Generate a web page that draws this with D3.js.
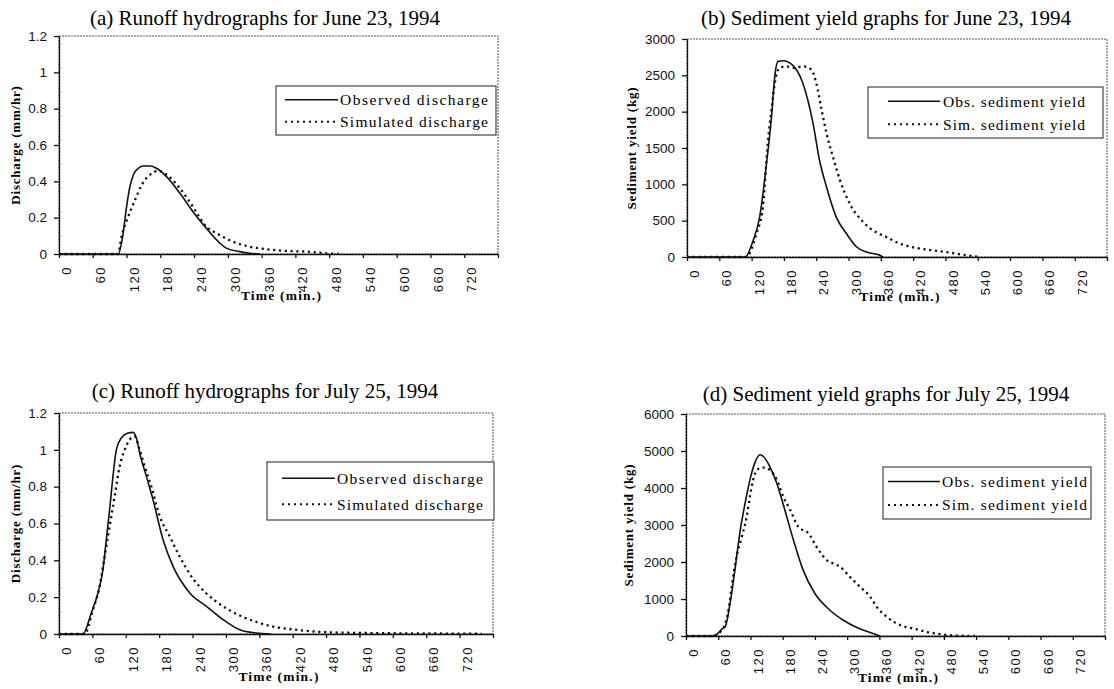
<!DOCTYPE html>
<html>
<head>
<meta charset="utf-8">
<script src="https://cdn.jsdelivr.net/npm/d3@7"></script>
<style>
  body { margin: 0; background: #fff; }
  svg { display: block; font-family: "Liberation Serif", "Times New Roman", serif; }
</style>
</head>
<body>
<svg width="1114" height="689"></svg>
<script>
// titles and labels
const titles = [
  "(a) Runoff hydrographs for June 23, 1994",
  "(b) Sediment yield graphs for June 23, 1994",
  "(c) Runoff hydrographs for July 25, 1994",
  "(d) Sediment yield graphs for July 25, 1994"
];
const yLabels = ["Discharge (mm/hr)", "Sediment yield (kg)"];
const xLabel = "Time (min.)";
const legendDischarge = ["Observed discharge", "Simulated discharge"];
const legendSediment = ["Obs. sediment yield", "Sim. sediment yield"];
const timeTicks = d3.range(0, 781, 60);
const dischargeTicks = [0, 0.2, 0.4, 0.6, 0.8, 1, 1.2];
const sediment1Ticks = [0, 500, 1000, 1500, 2000, 2500, 3000];
const sediment2Ticks = [0, 1000, 2000, 3000, 4000, 5000, 6000];

// (a) runoff, June 23
const aObsT = [0, 105, 114, 120, 126, 132, 141, 150, 162, 173, 191, 215, 238, 262, 286, 298, 321, 339, 357];
const aObsV = [0, 0, 0.114, 0.26, 0.37, 0.435, 0.472, 0.484, 0.484, 0.472, 0.426, 0.334, 0.233, 0.141, 0.059, 0.031, 0.013, 0.004, 0];
const aSimT = [0, 105, 111, 123, 135, 147, 165, 176, 194, 215, 238, 250, 262, 280, 309, 339, 369, 404, 440, 475, 499];
const aSimV = [0, 0, 0.095, 0.205, 0.297, 0.38, 0.444, 0.457, 0.43, 0.36, 0.26, 0.2, 0.15, 0.114, 0.068, 0.04, 0.026, 0.017, 0.013, 0.004, 0];

// (b) sediment, June 23
const bObsT = [0, 108, 123, 135, 147, 157, 163, 169, 178, 197, 215, 234, 246, 259, 277, 296, 315, 333, 358, 364];
const bObsV = [0, 0, 230, 552, 1243, 1933, 2485, 2692, 2700, 2633, 2394, 1842, 1335, 966, 552, 323, 138, 69, 23, 0];
const bSimT = [0, 110, 129, 141, 150, 157, 163, 172, 185, 200, 215, 231, 240, 250, 259, 271, 284, 302, 327, 345, 370, 395, 426, 457, 488, 519, 544];
const bSimV = [0, 0, 323, 690, 1566, 2025, 2394, 2601, 2623, 2601, 2623, 2578, 2394, 2025, 1704, 1381, 1059, 737, 483, 368, 276, 185, 124, 92, 60, 23, 0];

// (c) runoff, July 25
const cObsT = [0, 43, 58, 70, 79, 85, 91, 97, 103, 112, 124, 133, 139, 145, 157, 169, 187, 205, 235, 265, 295, 325, 355, 380];
const cObsV = [0, 0, 0.114, 0.223, 0.349, 0.512, 0.675, 0.856, 1.0, 1.064, 1.091, 1.095, 1.064, 0.983, 0.856, 0.729, 0.512, 0.367, 0.223, 0.15, 0.078, 0.023, 0.005, 0];
const cSimT = [0, 46, 61, 73, 82, 91, 100, 109, 118, 127, 136, 145, 154, 166, 181, 199, 217, 241, 265, 295, 325, 355, 385, 420, 480, 540, 600, 660, 720, 760];
const cSimV = [0, 0, 0.132, 0.258, 0.421, 0.584, 0.747, 0.91, 1.0, 1.055, 1.073, 1.0, 0.91, 0.8, 0.64, 0.53, 0.42, 0.3, 0.22, 0.15, 0.1, 0.065, 0.04, 0.025, 0.01, 0.006, 0.004, 0.003, 0.002, 0.001];

// (d) sediment, July 25
const dObsT = [0, 45, 55, 60, 66, 73, 82, 91, 101, 110, 119, 128, 138, 144, 156, 169, 184, 200, 218, 240, 268, 293, 318, 343, 361];
const dObsV = [0, 0, 30, 80, 180, 250, 878, 1780, 2864, 3588, 4220, 4672, 4897, 4851, 4580, 4130, 3406, 2593, 1780, 1149, 696, 425, 228, 92, 0];
const dSimT = [0, 51, 60, 66, 73, 79, 85, 94, 104, 113, 119, 125, 132, 144, 156, 169, 181, 194, 209, 228, 243, 262, 274, 287, 305, 324, 343, 355, 374, 399, 424, 448, 467, 492, 542];
const dSimV = [0, 0, 60, 150, 336, 696, 1328, 2141, 2683, 3225, 3767, 4220, 4490, 4553, 4490, 4220, 3767, 3406, 2954, 2775, 2412, 2051, 1962, 1870, 1599, 1328, 1057, 786, 515, 290, 200, 108, 65, 19, 0];

const zip = (t, v) => t.map((d, i) => ({ t: d, v: v[i] }));

const panels = [
  { title: titles[0], yLabel: yLabels[0], ticks: dischargeTicks, legend: legendDischarge,
    obs: zip(aObsT, aObsV), sim: zip(aSimT, aSimV),
    box: { left: 59, top: 36, right: 498, bottom: 254 }, titleX: 265, titleY: 25, yLabX: 15, timeY: 300,
    leg: { x: 276, y: 86, w: 220, h: 49, l0: 9, l1: 62, tx: 64, tw: 148 } },
  { title: titles[1], yLabel: yLabels[1], ticks: sediment1Ticks, legend: legendSediment,
    obs: zip(bObsT, bObsV), sim: zip(bSimT, bSimV),
    box: { left: 687, top: 39, right: 1107, bottom: 257 }, titleX: 886, titleY: 25, yLabX: 631, timeY: 301,
    leg: { x: 868, y: 87, w: 235, h: 51, l0: 20, l1: 72, tx: 75, tw: 142 } },
  { title: titles[2], yLabel: yLabels[0], ticks: dischargeTicks, legend: legendDischarge,
    obs: zip(cObsT, cObsV), sim: zip(cSimT, cSimV),
    box: { left: 59, top: 413, right: 493, bottom: 634 }, titleX: 265, titleY: 398, yLabX: 15, timeY: 681,
    leg: { x: 267, y: 462, w: 227, h: 58, l0: 15, l1: 68, tx: 70, tw: 146 } },
  { title: titles[3], yLabel: yLabels[1], ticks: sediment2Ticks, legend: legendSediment,
    obs: zip(dObsT, dObsV), sim: zip(dSimT, dSimV),
    box: { left: 686, top: 414, right: 1105, bottom: 636 }, titleX: 886, titleY: 401, yLabX: 628, timeY: 682,
    leg: { x: 883, y: 467, w: 208, h: 52, l0: 5, l1: 57, tx: 59, tw: 145 } }
];

const svg = d3.select("svg");

panels.forEach(p => {
  const b = p.box;
  const x = d3.scaleLinear().domain([0, 780]).range([b.left, b.right]);
  const y = d3.scaleLinear().domain([0, d3.max(p.ticks)]).range([b.bottom, b.top]);
  const g = svg.append("g");

  // title
  g.append("text")
    .attr("x", p.titleX).attr("y", p.titleY)
    .attr("text-anchor", "middle")
    .style("font-size", "21px")
    .text(p.title);

  // plot area border (top / right dotted)
  g.append("rect")
    .attr("x", b.left).attr("y", b.top)
    .attr("width", b.right - b.left).attr("height", b.bottom - b.top)
    .attr("fill", "none").attr("stroke", "#555").attr("stroke-width", 1)
    .attr("stroke-dasharray", "2,1");

  // y axis
  const yAxis = g.append("g")
    .attr("transform", `translate(${b.left},0)`)
    .call(d3.axisLeft(y).tickValues(p.ticks).tickSize(5).tickSizeOuter(0).tickPadding(7)
      .tickFormat(d3.format("")));
  yAxis.selectAll("text").style("font-size", "13.5px").attr("fill", "#111");
  yAxis.selectAll("line, path").attr("stroke", "#111").attr("stroke-width", 1.3);

  // x axis
  const xAxis = g.append("g")
    .attr("transform", `translate(0,${b.bottom})`)
    .call(d3.axisBottom(x).tickValues(timeTicks).tickSize(4).tickSizeOuter(0)
      .tickFormat(d => (d <= 720 ? d : "")));
  xAxis.selectAll("line, path").attr("stroke", "#111").attr("stroke-width", 1.3);
  xAxis.selectAll("text")
    .attr("x", 0).attr("y", 0).attr("dy", "0.35em")
    .attr("transform", "translate(7,12) rotate(-90)")
    .style("text-anchor", "end")
    .style("font-size", "13px")
    .style("letter-spacing", "1.5px")
    .attr("fill", "#111");

  // axis titles
  g.append("text")
    .attr("transform", `translate(${p.yLabX},${(b.top + b.bottom) / 2}) rotate(-90)`)
    .attr("dy", "0.35em")
    .attr("text-anchor", "middle")
    .style("font-size", "13px").style("font-weight", "bold").style("letter-spacing", "0.8px")
    .text(p.yLabel);
  g.append("text")
    .attr("x", (b.left + b.right) / 2 + 3).attr("y", p.timeY)
    .attr("text-anchor", "middle")
    .style("font-size", "13.5px").style("font-weight", "bold").style("letter-spacing", "1.2px")
    .text(xLabel);

  // lines
  const line = d3.line().x(d => x(d.t)).y(d => y(d.v)).curve(d3.curveMonotoneX);
  g.append("path").datum(p.sim)
    .attr("d", line).attr("fill", "none")
    .attr("stroke", "#111").attr("stroke-width", 2.3).attr("stroke-dasharray", "2.2,3.6");
  g.append("path").datum(p.obs)
    .attr("d", line).attr("fill", "none")
    .attr("stroke", "#111").attr("stroke-width", 1.6);

  // legend
  const L = p.leg;
  const lg = g.append("g").attr("transform", `translate(${L.x},${L.y})`);
  lg.append("rect").attr("width", L.w).attr("height", L.h)
    .attr("fill", "#fff").attr("stroke", "#444").attr("stroke-width", 1.2);
  p.legend.forEach((name, i) => {
    const ry = L.h * (i === 0 ? 0.28 : 0.73);
    lg.append("line")
      .attr("x1", L.l0).attr("x2", L.l1).attr("y1", ry).attr("y2", ry)
      .attr("stroke", "#111")
      .attr("stroke-width", i === 0 ? 1.6 : 2)
      .attr("stroke-dasharray", i === 0 ? null : "2,4");
    lg.append("text")
      .attr("x", L.tx).attr("y", ry).attr("dy", "0.35em")
      .attr("textLength", L.tw).attr("lengthAdjust", "spacing")
      .style("font-size", "15.5px")
      .text(name);
  });
});
</script>
</body>
</html>
